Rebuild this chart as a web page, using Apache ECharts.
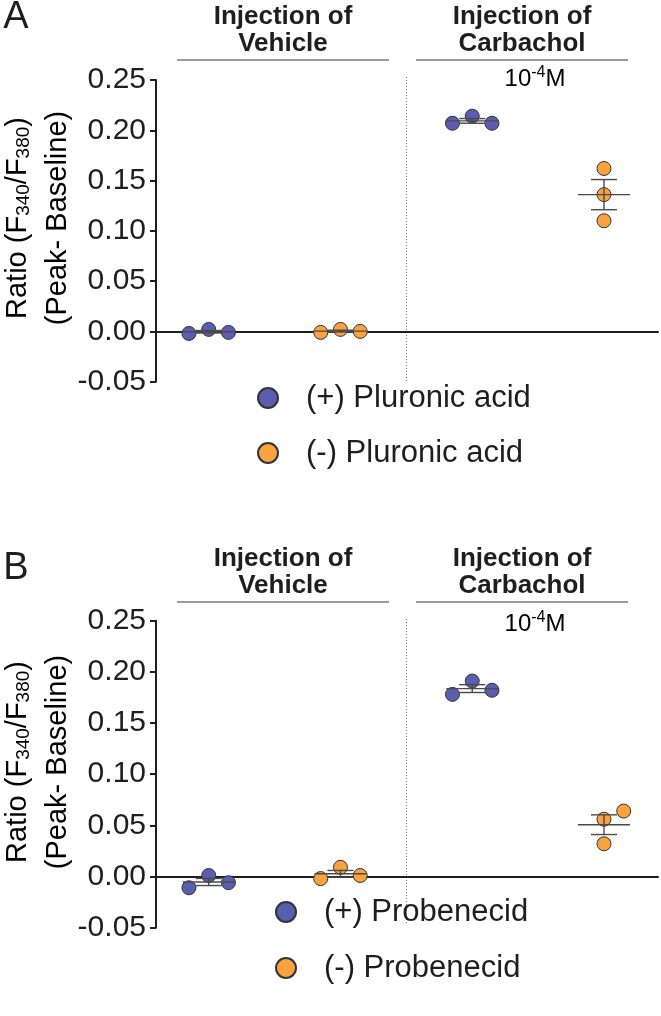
<!DOCTYPE html>
<html>
<head>
<meta charset="utf-8">
<script src="https://cdn.jsdelivr.net/npm/echarts@6/dist/echarts.min.js"></script>
<style>
  html, body { margin: 0; padding: 0; background: #fff; }
  #chart { width: 661px; height: 1016px; }
</style>
</head>
<body>
<div id="chart"></div>
<script>
// ---------------- DATA ----------------
const yTicks = [-0.05, 0, 0.05, 0.10, 0.15, 0.20, 0.25];
const groupNames = ['Vehicle (+)', 'Vehicle (-)', 'Carbachol (+)', 'Carbachol (-)'];
const groupX = [1, 2, 3, 4];

// Panel A
const seriesNamesA = ['(+) Pluronic acid', '(-) Pluronic acid'];
const aPlusVehicle = [-0.002, 0.002, -0.001];
const aMinusVehicle = [-0.001, 0.002, 0.000];
const aPlusCarbachol = [0.207, 0.214, 0.207];
const aMinusCarbachol = [0.162, 0.136, 0.110];

// Panel B
const seriesNamesB = ['(+) Probenecid', '(-) Probenecid'];
const bPlusVehicle = [-0.011, 0.001, -0.006];
const bMinusVehicle = [-0.002, 0.009, 0.001];
const bPlusCarbachol = [0.178, 0.191, 0.182];
const bMinusCarbachol = [0.056, 0.064, 0.032];

// horizontal scatter offsets of the replicate points within a group
const spreadOffsets = [-0.15, 0, 0.15];
const aMinusCarbOffsets = [0, 0, 0];
const bMinusCarbOffsets = [0, 0.15, 0];

// ---------------- STYLE ----------------
const FONT = "'Liberation Sans', Arial, Helvetica, sans-serif";
const BLUE = '#5a5eb1';
const ORANGE = '#f9a23f';
const INK = '#1e1e1e';

function pts(center, vals, offs) {
  return vals.map((v, i) => [center + offs[i], v]);
}
function meanSem(vals) {
  const n = vals.length;
  const m = vals.reduce((a, b) => a + b, 0) / n;
  const sd = Math.sqrt(vals.reduce((a, b) => a + (b - m) * (b - m), 0) / (n - 1));
  return [m, sd / Math.sqrt(n)];
}
function errItem(center, vals) {
  const ms = meanSem(vals);
  return [center, ms[0], ms[1]];
}

function renderErr(params, api) {
  const x = api.value(0), m = api.value(1), s = api.value(2);
  const c = api.coord([x, m]);
  const lo = api.coord([x, m - s]);
  const hi = api.coord([x, m + s]);
  const st = { stroke: '#4a4a4a', lineWidth: 1.4 };
  return {
    type: 'group',
    children: [
      { type: 'line', shape: { x1: c[0] - 26, y1: c[1], x2: c[0] + 26, y2: c[1] }, style: st },
      { type: 'line', shape: { x1: c[0], y1: lo[1], x2: c[0], y2: hi[1] }, style: st },
      { type: 'line', shape: { x1: c[0] - 13, y1: lo[1], x2: c[0] + 13, y2: lo[1] }, style: st },
      { type: 'line', shape: { x1: c[0] - 13, y1: hi[1], x2: c[0] + 13, y2: hi[1] }, style: st }
    ]
  };
}

const grids = [
  { left: 156, right: 3, top: 80, height: 301.7 },
  { left: 156, right: 3, top: 620.7, height: 307 }
];

function xAxisDef(i) {
  return {
    gridIndex: i, type: 'value', min: 0.6, max: 4.41,
    axisLine: { show: true, onZero: true, lineStyle: { color: INK, width: 2 } },
    axisTick: { show: false }, axisLabel: { show: false }, splitLine: { show: false }
  };
}
function yAxisDef(i) {
  return {
    gridIndex: i, type: 'value', min: yTicks[0], max: yTicks[yTicks.length - 1], interval: 0.05,
    axisLine: { show: true, onZero: false, lineStyle: { color: INK, width: 2 } },
    axisTick: { show: true, inside: false, length: 6, lineStyle: { color: INK, width: 2 } },
    axisLabel: { fontFamily: FONT, fontSize: 30, color: INK, margin: 10,
      formatter: v => v.toFixed(2) },
    splitLine: { show: false }
  };
}

function scatter(name, idx, data, color) {
  return {
    name: name, type: 'scatter', xAxisIndex: idx, yAxisIndex: idx,
    symbol: 'circle', symbolSize: 14, z: 2,
    itemStyle: { color: color, borderColor: '#333', borderWidth: 1, opacity: 1 },
    data: data
  };
}
function errSeries(idx, data) {
  return {
    type: 'custom', xAxisIndex: idx, yAxisIndex: idx, z: 3,
    renderItem: renderErr, encode: { x: 0, y: 1 }, data: data, silent: true
  };
}

const series = [
  scatter(seriesNamesA[0], 0,
    pts(groupX[0], aPlusVehicle, spreadOffsets).concat(pts(groupX[2], aPlusCarbachol, spreadOffsets)), BLUE),
  scatter(seriesNamesA[1], 0,
    pts(groupX[1], aMinusVehicle, spreadOffsets).concat(pts(groupX[3], aMinusCarbachol, aMinusCarbOffsets)), ORANGE),
  errSeries(0, [errItem(groupX[0], aPlusVehicle), errItem(groupX[1], aMinusVehicle),
                errItem(groupX[2], aPlusCarbachol), errItem(groupX[3], aMinusCarbachol)]),
  scatter(seriesNamesB[0], 1,
    pts(groupX[0], bPlusVehicle, spreadOffsets).concat(pts(groupX[2], bPlusCarbachol, spreadOffsets)), BLUE),
  scatter(seriesNamesB[1], 1,
    pts(groupX[1], bMinusVehicle, spreadOffsets).concat(pts(groupX[3], bMinusCarbachol, bMinusCarbOffsets)), ORANGE),
  errSeries(1, [errItem(groupX[0], bPlusVehicle), errItem(groupX[1], bMinusVehicle),
                errItem(groupX[2], bPlusCarbachol), errItem(groupX[3], bMinusCarbachol)])
];

function legendDef(names, left, top, gap) {
  return {
    data: names, orient: 'vertical', left: left, top: top, padding: 0,
    itemWidth: 20, itemHeight: 20, icon: 'circle', itemGap: gap, selectedMode: false,
    textStyle: { fontFamily: FONT, fontSize: 31, color: INK, lineHeight: 34, padding: [0, 0, 0, 23] }
  };
}

const rich = {
  n: { fontFamily: FONT, fontSize: 29, color: INK, lineHeight: 40 },
  s: { fontFamily: FONT, fontSize: 19, color: INK, lineHeight: 40, padding: [12, 0, 0, 0] }
};
const supRich = {
  n: { fontFamily: FONT, fontSize: 24, color: INK, lineHeight: 28 },
  p: { fontFamily: FONT, fontSize: 16, color: INK, lineHeight: 28, padding: [0, 0, 12, 0] }
};

function panelGraphics(dy, letter, letterY, yTitleY, tenY) {
  const g = [];
  g.push({ type: 'text', x: 16, y: letterY, style: { text: letter, font: '38px ' + FONT, fill: INK, align: 'center', verticalAlign: 'middle' } });
  [[283, 'Vehicle'], [522, 'Carbachol']].forEach(h => {
    g.push({ type: 'text', x: h[0], y: 30 + dy, style: { text: 'Injection of\n' + h[1], font: 'bold 26px ' + FONT, lineHeight: 27, fill: INK, align: 'center', verticalAlign: 'middle' } });
  });
  g.push({ type: 'line', shape: { x1: 177, y1: 60 + dy, x2: 389, y2: 60 + dy }, style: { stroke: '#7a7a7a', lineWidth: 1.5 } });
  g.push({ type: 'line', shape: { x1: 416, y1: 60 + dy, x2: 628, y2: 60 + dy }, style: { stroke: '#7a7a7a', lineWidth: 1.5 } });
  g.push({ type: 'text', x: 535, y: tenY, style: { text: '{n|10}{p|-4}{n|M}', rich: supRich, align: 'center', verticalAlign: 'middle' } });
  g.push({ type: 'line', shape: { x1: 406.5, y1: 77 + dy, x2: 406.5, y2: 383 + dy }, style: { stroke: '#777', lineWidth: 1, lineDash: [1, 2] } });
  g.push({ type: 'text', x: 38, y: yTitleY, rotation: Math.PI / 2,
    style: { text: '{n|Ratio (F}{s|340}{n|/F}{s|380}{n|)}\n{n|(Peak- Baseline)}', rich: rich, align: 'center', verticalAlign: 'middle' } });
  return g;
}

const chart = echarts.init(document.getElementById('chart'), null, { renderer: 'canvas' });
chart.setOption({
  animation: false,
  backgroundColor: '#fff',
  grid: grids,
  xAxis: [xAxisDef(0), xAxisDef(1)],
  yAxis: [yAxisDef(0), yAxisDef(1)],
  legend: [legendDef(seriesNamesA, 257, 381, 21), legendDef(seriesNamesB, 275, 895, 22)],
  series: series,
  graphic: panelGraphics(0, 'A', 18, 218, 79).concat(panelGraphics(542, 'B', 569, 762, 624))
});
</script>
</body>
</html>
